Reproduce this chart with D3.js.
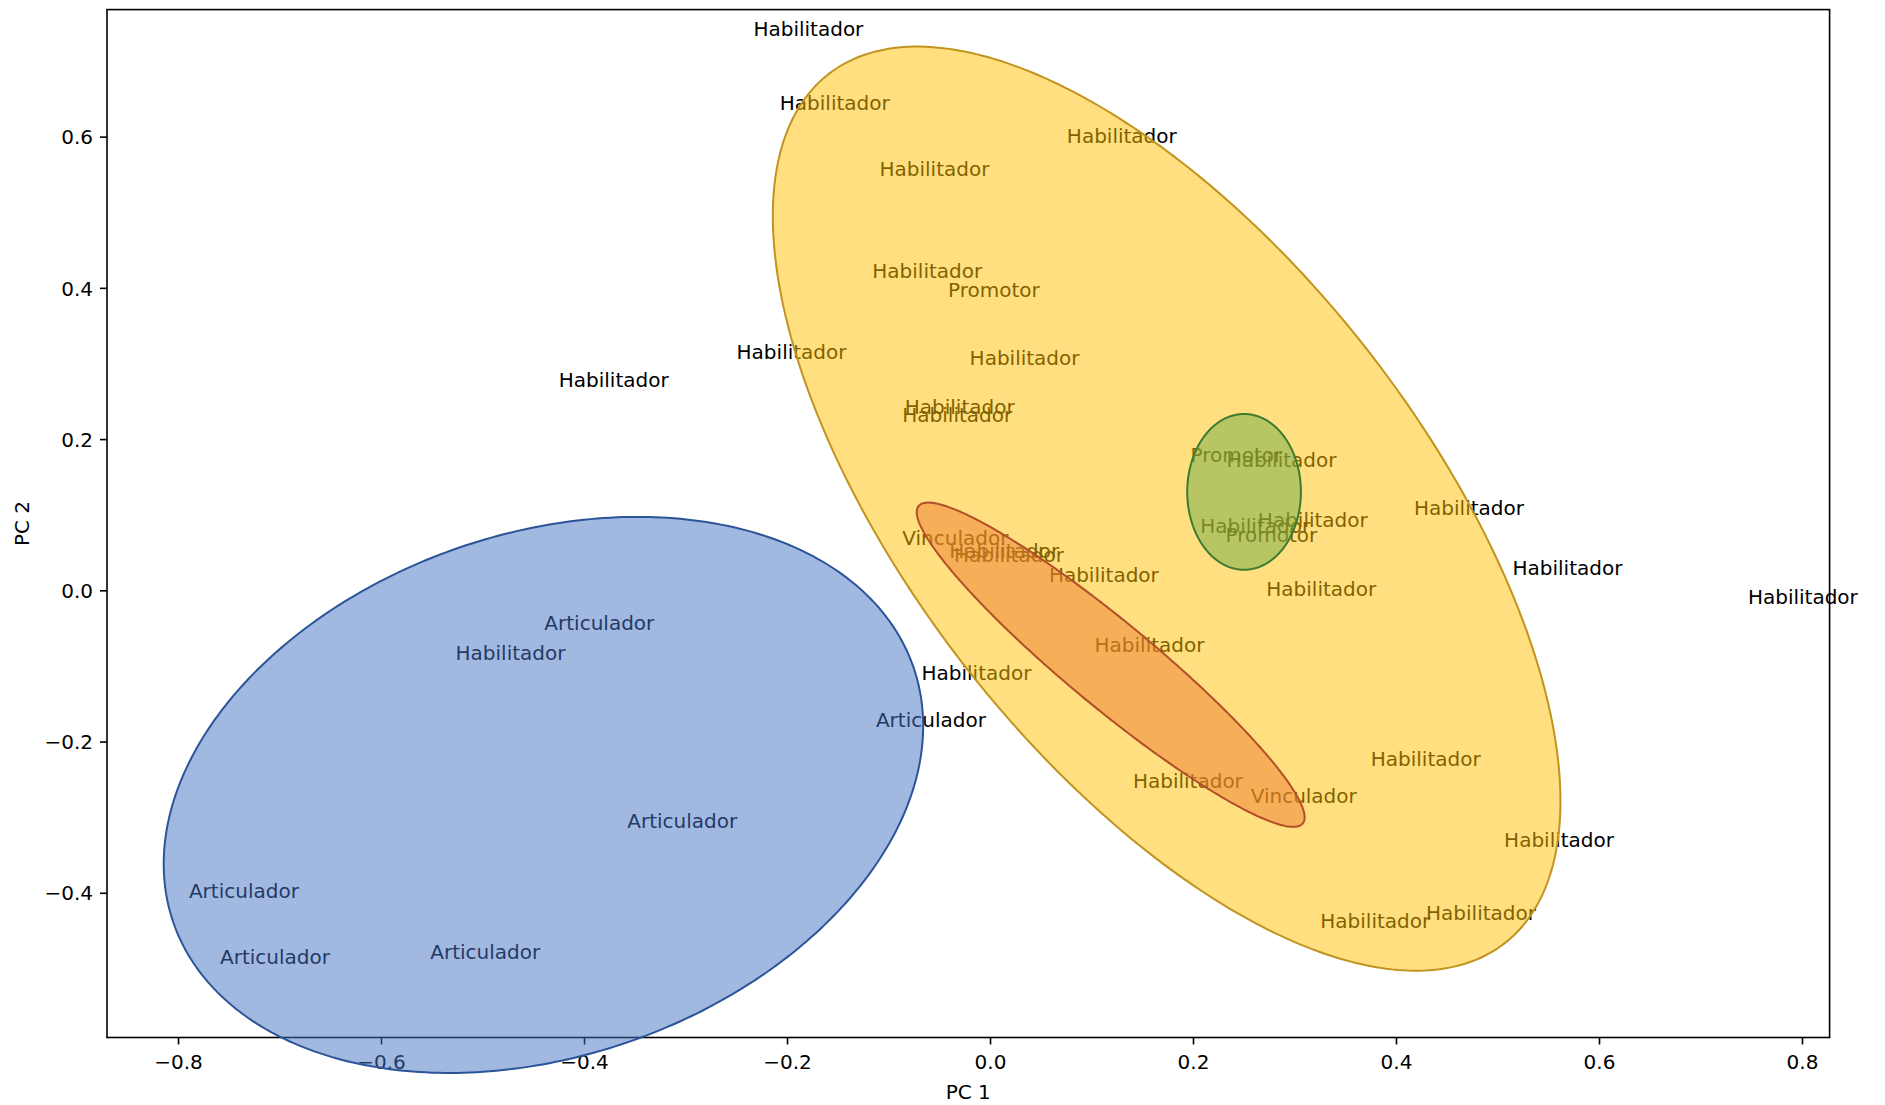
<!DOCTYPE html>
<html>
<head>
<meta charset="utf-8">
<script src="https://cdn.jsdelivr.net/npm/d3@7"></script>
<style>
  html, body { margin: 0; padding: 0; background: #ffffff; }
  svg { display: block; }
  text { font-family: "DejaVu Sans", sans-serif; }
</style>
</head>
<body>
<svg id="chart" width="1885" height="1105"></svg>
<script>
// Point labels and their PCA scores (PC 1, PC 2)
const pointLabels = [
  "Habilitador", "Habilitador", "Habilitador", "Habilitador", "Habilitador",
  "Promotor", "Habilitador", "Habilitador", "Habilitador", "Habilitador",
  "Habilitador", "Promotor", "Habilitador", "Habilitador", "Habilitador",
  "Habilitador", "Promotor", "Vinculador", "Habilitador", "Habilitador",
  "Habilitador", "Habilitador", "Habilitador", "Habilitador", "Articulador",
  "Habilitador", "Habilitador", "Habilitador", "Articulador", "Habilitador",
  "Habilitador", "Vinculador", "Articulador", "Habilitador", "Articulador",
  "Habilitador", "Habilitador", "Articulador", "Articulador"
];
const pc1 = [
  -0.2331, -0.2071, 0.0757, -0.1089, -0.1160,
  -0.0414, -0.2497, -0.4249, -0.0201, -0.0840,
  -0.0864, 0.1976, 0.2331, 0.4178, 0.2639,
  0.2071, 0.2320, -0.0864, -0.0402, -0.0355,
  0.5148, 0.0580, 0.2722, 0.7467, -0.4391,
  -0.5266, 0.1030, -0.0675, -0.1124, 0.3751,
  0.1408, 0.2568, -0.3574, 0.5065, -0.7893,
  0.3254, 0.4296, -0.5515, -0.7586
];
const pc2 = [
  0.7333, 0.6349, 0.5921, 0.5476, 0.4127,
  0.3873, 0.3063, 0.2683, 0.2984, 0.2333,
  0.2222, 0.1698, 0.1635, 0.1000, 0.0841,
  0.0762, 0.0635, 0.0603, 0.0429, 0.0381,
  0.0206, 0.0111, -0.0079, -0.0175, -0.0524,
  -0.0921, -0.0810, -0.1190, -0.1810, -0.2317,
  -0.2619, -0.2810, -0.3143, -0.3397, -0.4063,
  -0.4460, -0.4365, -0.4873, -0.4937
];

// Group ellipses in data units: centre, full width / height, rotation (degrees)
const ellipseGroups = ["Articulador", "Habilitador", "Vinculador", "Promotor"];
const ellipseCx     = [-0.440, 0.174, 0.1189, 0.2503];
const ellipseCy     = [-0.2706, 0.108, -0.0984, 0.1302];
const ellipseWidth  = [0.829, 1.340, 0.566, 0.112];
const ellipseHeight = [0.643, 0.548, 0.098, 0.206];
const ellipseAngle  = [43.0, -63.3, -48.5, 0.0];
const ellipseFill   = ["#4472C4", "#FFC000", "#ED7D31", "#70AD47"];
const ellipseEdge   = ["#2B5598", "#C0941E", "#B24E28", "#3C7B32"];

// Axis ticks
const xTicks = [-0.8, -0.6, -0.4, -0.2, 0.0, 0.2, 0.4, 0.6, 0.8];
const yTicks = [-0.4, -0.2, 0.0, 0.2, 0.4, 0.6];

const svg = d3.select("#chart");
const plot = { left: 107, right: 1829.6, top: 9.6, bottom: 1037.5 };

const x = d3.scaleLinear().domain([-0.870, 0.8272]).range([plot.left, plot.right]);
const y = d3.scaleLinear().domain([-0.5914, 0.768]).range([plot.bottom, plot.top]);

const fmt = d3.format(".1f");

// Axes
const xAxis = svg.append("g")
  .attr("transform", `translate(0,${plot.bottom})`)
  .call(d3.axisBottom(x).tickValues(xTicks).tickFormat(fmt).tickSize(7).tickPadding(7).tickSizeOuter(0));
const yAxis = svg.append("g")
  .attr("transform", `translate(${plot.left},0)`)
  .call(d3.axisLeft(y).tickValues(yTicks).tickFormat(fmt).tickSize(7).tickPadding(7).tickSizeOuter(0));

[xAxis, yAxis].forEach(g => {
  g.select(".domain").remove();
  g.selectAll(".tick line").attr("stroke", "#000").attr("stroke-width", 1.6);
  g.selectAll(".tick text").attr("fill", "#000").style("font-size", "20px")
    .style("font-family", "'DejaVu Sans', sans-serif");
});
xAxis.selectAll(".tick text").attr("dy", null).attr("y", 31);
yAxis.selectAll(".tick text").attr("dy", "0.36em");

// Frame
svg.append("rect")
  .attr("x", plot.left).attr("y", plot.top)
  .attr("width", plot.right - plot.left).attr("height", plot.bottom - plot.top)
  .attr("fill", "none").attr("stroke", "#000").attr("stroke-width", 1.6);

// Axis titles
svg.append("text")
  .attr("x", (plot.left + plot.right) / 2).attr("y", 1099)
  .attr("text-anchor", "middle").style("font-size", "20px").attr("fill", "#000")
  .text("PC 1");
svg.append("text")
  .attr("transform", `translate(29,${(plot.top + plot.bottom) / 2}) rotate(-90)`)
  .attr("text-anchor", "middle").style("font-size", "20px").attr("fill", "#000")
  .text("PC 2");

// Point labels (anchored at their left baseline)
svg.append("g").selectAll("text")
  .data(pointLabels.map((d, i) => ({ label: d, px: pc1[i], py: pc2[i] })))
  .join("text")
  .attr("x", d => x(d.px))
  .attr("y", d => y(d.py))
  .attr("fill", "#000")
  .style("font-size", "20px")
  .text(d => d.label);

// Confidence ellipses, drawn over the labels
function ellipsePoints(i) {
  const th = ellipseAngle[i] * Math.PI / 180;
  const a = ellipseWidth[i] / 2, b = ellipseHeight[i] / 2;
  return d3.range(0, 360, 1).map(deg => {
    const t = deg * Math.PI / 180;
    const ux = a * Math.cos(t), uy = b * Math.sin(t);
    return [
      x(ellipseCx[i] + ux * Math.cos(th) - uy * Math.sin(th)),
      y(ellipseCy[i] + ux * Math.sin(th) + uy * Math.cos(th))
    ];
  });
}
const line = d3.line().curve(d3.curveLinearClosed);
const order = [0, 1, 2, 3];
svg.append("g").selectAll("path")
  .data(order)
  .join("path")
  .attr("d", i => line(ellipsePoints(i)))
  .attr("fill", i => ellipseFill[i])
  .attr("fill-opacity", 0.5)
  .attr("stroke", i => ellipseEdge[i])
  .attr("stroke-width", 2);
</script>
</body>
</html>
